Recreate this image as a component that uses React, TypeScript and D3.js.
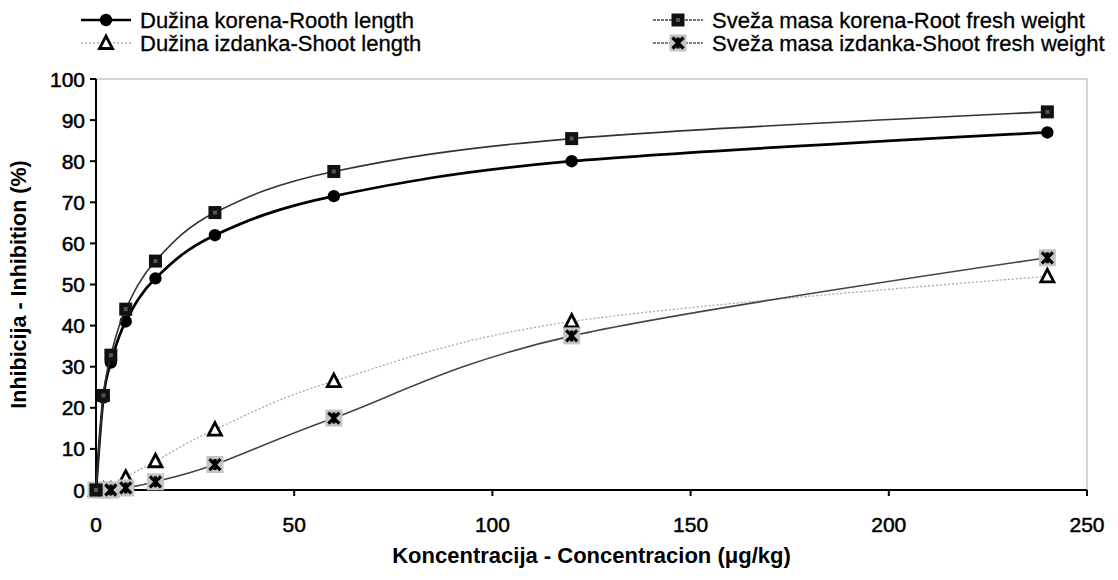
import React from "react";
import * as d3 from "d3";

const concentrations = [0, 1.875, 3.75, 7.5, 15, 30, 60, 120, 240];
const rootLength = [0, 22.5, 31, 41, 51.5, 62, 71.5, 80, 87];
const rootFresh = [0, 23, 32.8, 44, 55.7, 67.5, 77.5, 85.5, 92];
const shootLength = [0, 0, 0, 3, 7, 14.7, 26.5, 41, 52];
const shootFresh = [0, 0, 0, 0.5, 2, 6.2, 17.5, 37.5, 56.5];
const xTicks = [0, 50, 100, 150, 200, 250];
const yTicks = [0, 10, 20, 30, 40, 50, 60, 70, 80, 90, 100];

const W = 1118;
const H = 580;
const left = 96;
const right = 1087;
const top = 79;
const bottom = 490;
const FONT = "'Liberation Sans', Arial, sans-serif";

const x = d3.scaleLinear().domain([0, 250]).range([left, right]);
const y = d3.scaleLinear().domain([0, 100]).range([bottom, top]);

type Pt = [number, number];
const pts = (vals: number[]): Pt[] => concentrations.map((c, i) => [c, vals[i]]);
const line = d3
  .line<Pt>()
  .x((d) => x(d[0]))
  .y((d) => y(d[1]))
  .curve(d3.curveCardinal.tension(0));

const Circle = ({ cx, cy }: { cx: number; cy: number }) => (
  <circle cx={cx} cy={cy} r={6.2} fill="#000" />
);
const Square = ({ cx, cy }: { cx: number; cy: number }) => (
  <g>
    <rect x={cx - 6.5} y={cy - 6.5} width={13} height={13} fill="#111" />
    <rect x={cx - 2} y={cy - 2} width={4} height={4} fill="#555" />
  </g>
);
const Tri = ({ cx, cy }: { cx: number; cy: number }) => (
  <path
    d={`M${cx},${cy - 7} L${cx + 6.5},${cy + 5.5} L${cx - 6.5},${cy + 5.5} Z`}
    fill="#fff"
    stroke="#000"
    strokeWidth={2.8}
    strokeLinejoin="miter"
  />
);
const Star = ({ cx, cy }: { cx: number; cy: number }) => (
  <g>
    <rect x={cx - 8.5} y={cy - 8.5} width={17} height={17} fill="#c4c4c4" />
    <path
      d={`M${cx - 5.5},${cy - 5.5} L${cx + 5.5},${cy + 5.5} M${cx + 5.5},${cy - 5.5} L${cx - 5.5},${cy + 5.5} M${cx},${cy - 5.5} L${cx},${cy + 5.5}`}
      stroke="#000"
      strokeWidth={3.2}
    />
  </g>
);

const legendItems = [
  { label: "Dužina korena-Rooth length", sx: 106, ty: 0, stroke: "#000", sw: 2.6, dash: undefined as string | undefined, M: Circle },
  { label: "Dužina izdanka-Shoot length", sx: 106, ty: 1, stroke: "#aaa", sw: 1.3, dash: "2,2", M: Tri },
  { label: "Sveža masa korena-Root fresh weight", sx: 678, ty: 0, stroke: "#444", sw: 1.4, dash: "3,1", M: Square },
  { label: "Sveža masa izdanka-Shoot fresh weight", sx: 678, ty: 1, stroke: "#555", sw: 1.4, dash: "3,1", M: Star },
];

export default function App() {
  const series = [
    { vals: shootLength, stroke: "#a8a8a8", sw: 1.3, dash: "2,2", M: Tri },
    { vals: shootFresh, stroke: "#444", sw: 1.6, dash: undefined as string | undefined, M: Star },
    { vals: rootLength, stroke: "#000", sw: 2.7, dash: undefined as string | undefined, M: Circle },
    { vals: rootFresh, stroke: "#333", sw: 1.6, dash: undefined as string | undefined, M: Square },
  ];
  return (
    <svg width={W} height={H} style={{ position: "absolute", left: 0, top: 0, background: "#fff" }} fontFamily={FONT}>
      <rect x={0} y={0} width={W} height={H} fill="#fff" />
      {/* plot border */}
      <rect x={left} y={top} width={right - left} height={bottom - top} fill="none" stroke="#aaa" strokeWidth={1} />
      {/* axes */}
      <line x1={left} y1={top} x2={left} y2={bottom} stroke="#000" strokeWidth={2} />
      <line x1={left} y1={bottom} x2={right} y2={bottom} stroke="#000" strokeWidth={2} />
      {yTicks.map((t) => (
        <g key={"y" + t}>
          <line x1={left - 6} x2={left} y1={y(t)} y2={y(t)} stroke="#000" strokeWidth={2} />
          <text x={left - 11} y={y(t)} dy="0.36em" textAnchor="end" fontSize={21} stroke="#000" strokeWidth={0.5}>
            {t}
          </text>
        </g>
      ))}
      {xTicks.map((t) => (
        <g key={"x" + t}>
          <line x1={x(t)} x2={x(t)} y1={bottom} y2={bottom + 6} stroke="#000" strokeWidth={2} />
          <text x={x(t)} y={bottom + 42} textAnchor="middle" fontSize={21} stroke="#000" strokeWidth={0.5}>
            {t}
          </text>
        </g>
      ))}
      <text
        transform={`translate(26,${(top + bottom) / 2}) rotate(-90)`}
        textAnchor="middle"
        fontSize={21.5}
        fontWeight="bold"
      >
        Inhibicija - Inhibition (%)
      </text>
      <text x={(left + right) / 2} y={563} textAnchor="middle" fontSize={22} fontWeight="bold">
        Koncentracija - Concentracion (μg/kg)
      </text>
      {/* series */}
      {series.map((s, i) => (
        <g key={"s" + i}>
          <path d={line(pts(s.vals)) || ""} fill="none" stroke={s.stroke} strokeWidth={s.sw} strokeDasharray={s.dash} />
          {pts(s.vals).map((p, j) => (
            <s.M key={j} cx={x(p[0])} cy={y(p[1])} />
          ))}
        </g>
      ))}
      {/* legend */}
      {legendItems.map((l, i) => {
        const cy = 20 + l.ty * 23;
        return (
          <g key={"l" + i}>
            <line x1={l.sx - 25} x2={l.sx + 25} y1={cy} y2={cy} stroke={l.stroke} strokeWidth={l.sw} strokeDasharray={l.dash} />
            <l.M cx={l.sx} cy={cy} />
            <text x={l.sx + 34} y={cy} dy="0.36em" fontSize={22} stroke="#000" strokeWidth={0.3}>
              {l.label}
            </text>
          </g>
        );
      })}
    </svg>
  );
}
